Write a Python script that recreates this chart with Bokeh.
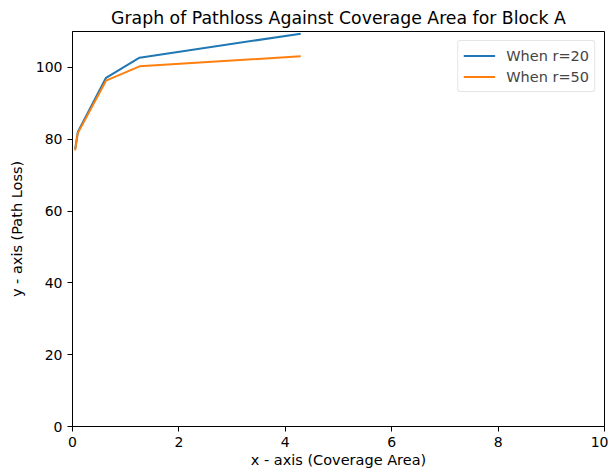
from bokeh.plotting import figure
from bokeh.models import Range1d, FixedTicker, Legend, LegendItem
from bokeh.embed import file_html
from bokeh.resources import INLINE

x_r20 = [0.05, 0.10, 0.63, 1.26, 4.29]
y_r20 = [77.3, 82.0, 97.1, 102.7, 109.4]
x_r50 = [0.05, 0.10, 0.63, 1.26, 4.29]
y_r50 = [76.9, 81.7, 96.3, 100.3, 103.1]
x_ticks = [0, 2, 4, 6, 8, 10]
y_ticks = [0, 20, 40, 60, 80, 100]

FONT = "DejaVu Sans"

p = figure(frame_width=532, frame_height=395, min_border_left=72, min_border_right=4,
           min_border_top=31, min_border_bottom=45,
           x_range=Range1d(0, 10), y_range=Range1d(0, 110),
           output_backend="svg", toolbar_location=None,
           title="Graph of Pathloss Against Coverage Area for Block A")

p.title.align = "center"
p.title.text_font = FONT
p.title.text_font_size = "17.3px"
p.title.text_font_style = "normal"
p.title.text_color = "#000000"
p.title.standoff = 8

r1 = p.line(x_r20, y_r20, line_color="#1f77b4", line_width=2)
r2 = p.line(x_r50, y_r50, line_color="#ff7f0e", line_width=2)

legend = Legend(items=[LegendItem(label="When r=20", renderers=[r1]),
                       LegendItem(label="When r=50", renderers=[r2])],
                location="top_right")
legend.label_text_font = FONT
legend.label_text_font_size = "14.5px"
legend.border_line_color = "#cccccc"
legend.border_line_width = 1
legend.border_radius = 3
legend.margin = 9
legend.padding = 5
legend.spacing = 2
legend.glyph_width = 32
legend.label_standoff = 11
legend.label_height = 19
legend.glyph_height = 19
p.add_layout(legend)

p.xgrid.visible = False
p.ygrid.visible = False
p.outline_line_color = "#000000"
p.outline_line_width = 1
p.outline_line_alpha = 1

for ax in (p.xaxis[0], p.yaxis[0]):
    ax.major_label_text_font = FONT
    ax.major_label_text_font_size = "14px"
    ax.major_label_text_color = "#000000"
    ax.axis_label_text_font = FONT
    ax.axis_label_text_font_size = "14.5px"
    ax.axis_label_text_font_style = "normal"
    ax.axis_label_text_color = "#000000"
    ax.minor_tick_line_color = None
    ax.major_tick_in = 0
    ax.major_tick_out = 5
    ax.major_label_standoff = 5
    ax.axis_line_color = "#000000"
    ax.major_tick_line_color = "#000000"

p.xaxis[0].ticker = FixedTicker(ticks=x_ticks)
p.yaxis[0].ticker = FixedTicker(ticks=y_ticks)
p.xaxis[0].axis_label = "x - axis (Coverage Area)"
p.yaxis[0].axis_label = "y - axis (Path Loss)"
p.xaxis[0].axis_label_standoff = 2
p.yaxis[0].axis_label_standoff = 8

open("out.html", "w").write(file_html(p, INLINE))
